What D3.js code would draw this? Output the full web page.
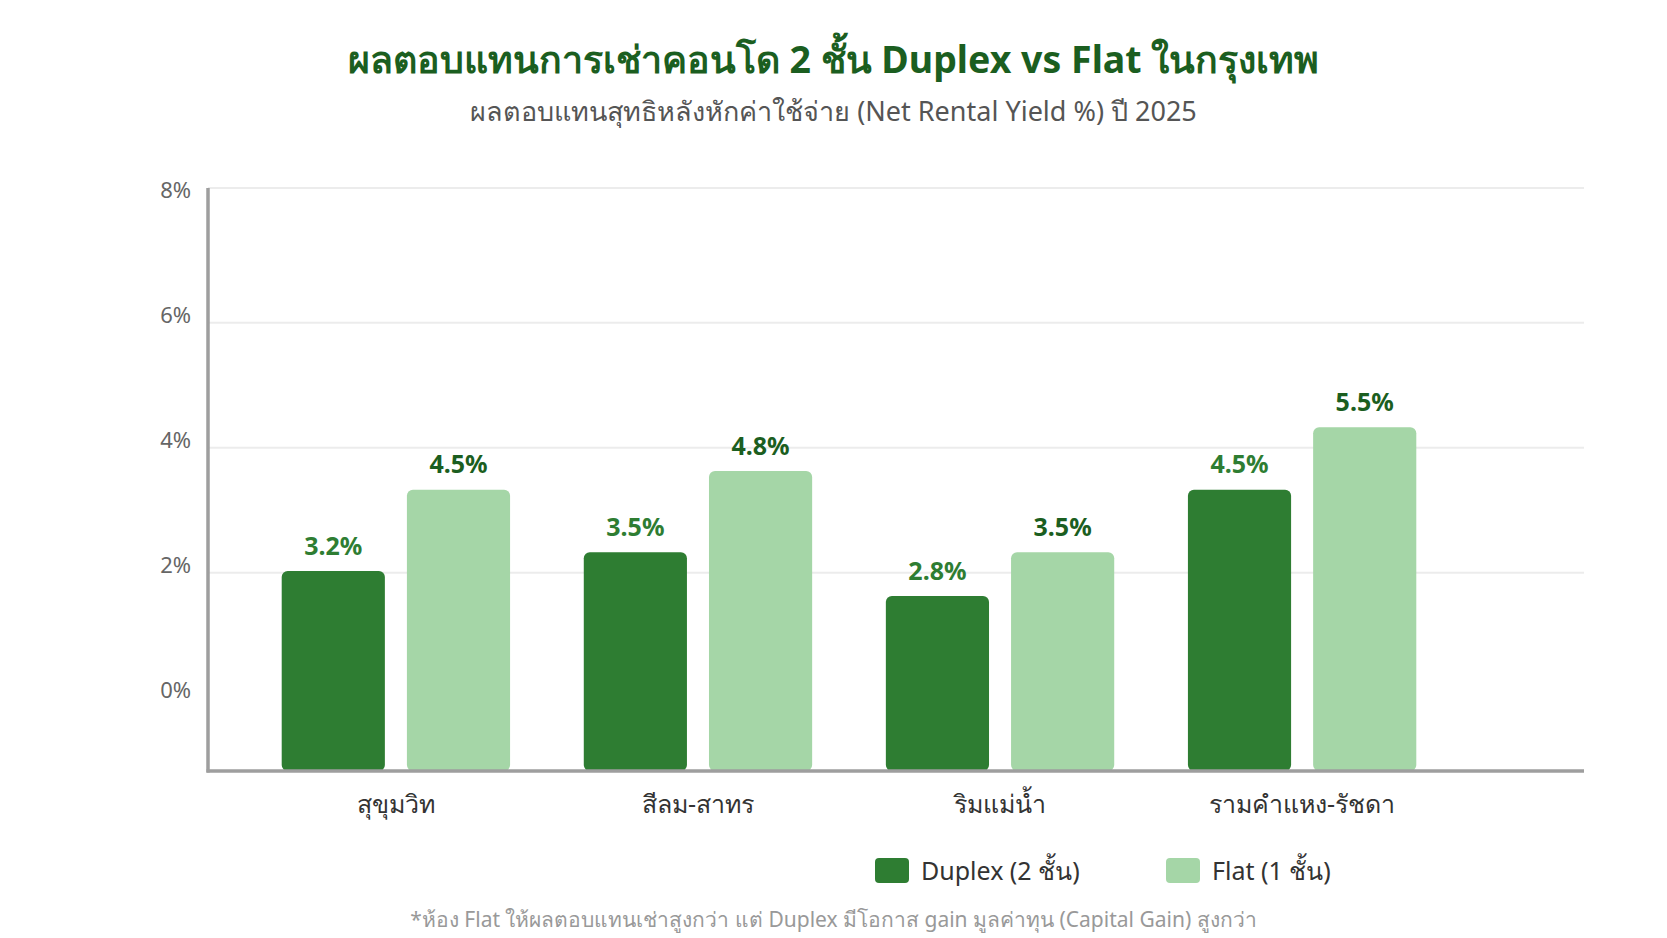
<!DOCTYPE html>
<html>
<head>
<meta charset="utf-8">
<script src="https://cdn.jsdelivr.net/npm/d3@7"></script>
<style>
  body { margin: 0; background: #fff; }
  text { font-family: "Noto Sans", sans-serif; }
</style>
</head>
<body>
<div id="chart"></div>
<script>
"use strict";

var categories = ["สุขุมวิท", "สีลม-สาทร", "ริมแม่น้ำ", "รามคำแหง-รัชดา"];
var duplexValues = [3.2, 3.5, 2.8, 4.5];
var flatValues = [4.5, 4.8, 3.5, 5.5];
var seriesKeys = ["duplex", "flat"];
var seriesNames = ["Duplex (2 ชั้น)", "Flat (1 ชั้น)"];
var yTicks = [0, 2, 4, 6, 8];

var titleText = "ผลตอบแทนการเช่าคอนโด 2 ชั้น Duplex vs Flat ในกรุงเทพ";
var subtitleText = "ผลตอบแทนสุทธิหลังหักค่าใช้จ่าย (Net Rental Yield %) ปี 2025";
var noteText = "*ห้อง Flat ให้ผลตอบแทนเช่าสูงกว่า แต่ Duplex มีโอกาส gain มูลค่าทุน (Capital Gain) สูงกว่า";

var W = 1667, H = 938;
var plotLeft = 208, plotRight = 1584, plotTop = 188, plotBottom = 771;
var colors = { duplex: "#2e7d32", flat: "#a5d6a7" };
var labelColors = { duplex: "#2e7d32", flat: "#1b5e20" };

function makeChart(){
    var svg = d3.select("#chart").append("svg").attr("width", W).attr("height", H);

    svg.append("text").attr("x", W / 2).attr("y", 63)
        .attr("text-anchor", "middle").attr("dominant-baseline", "middle")
        .style("font-size", "37.5px").style("font-weight", "700").style("fill", "#1b5e20")
        .text(titleText);
    svg.append("text").attr("x", W / 2).attr("y", 114)
        .attr("text-anchor", "middle").attr("dominant-baseline", "middle")
        .style("font-size", "27px").style("fill", "#555")
        .text(subtitleText);

    var y = d3.scaleLinear().domain([0, 9.33]).range([plotBottom, plotTop]);
    var x0 = d3.scaleBand().domain(categories).range([plotLeft, 1490]).paddingInner(0.244).paddingOuter(0.244);
    var x1 = d3.scaleBand().domain(seriesKeys).range([0, x0.bandwidth()]).paddingInner(0.176);

    // grid (labels sit above their value lines, like the source)
    var gridY = function(t){ return y(t) - 73.3; };
    svg.append("g").selectAll("line").data(yTicks.filter(function(t){ return t > 0 && t < 8; }))
        .enter().append("line")
        .attr("x1", plotLeft).attr("x2", plotRight)
        .attr("y1", gridY).attr("y2", gridY)
        .attr("stroke", "#ececec").attr("stroke-width", 2);
    svg.append("line").attr("x1", plotLeft).attr("x2", plotRight).attr("y1", plotTop).attr("y2", plotTop)
        .attr("stroke", "#ececec").attr("stroke-width", 2);

    svg.append("g").selectAll("text").data(yTicks).enter().append("text")
        .attr("x", 191).attr("y", function(t){ return y(t) - 79; })
        .attr("text-anchor", "end").attr("dominant-baseline", "middle")
        .style("font-size", "22px").style("fill", "#666")
        .text(function(t){ return t + "%"; });

    var rows = categories.map(function(c, i){
        return { cat: c, values: [
            { key: "duplex", v: duplexValues[i] },
            { key: "flat", v: flatValues[i] }
        ]};
    });

    var groups = svg.append("g").selectAll("g").data(rows).enter().append("g")
        .attr("transform", function(d){ return "translate(" + x0(d.cat) + ",0)"; });

    groups.selectAll("rect").data(function(d){ return d.values; }).enter().append("rect")
        .attr("x", function(d){ return x1(d.key); })
        .attr("y", function(d){ return y(d.v); })
        .attr("width", x1.bandwidth())
        .attr("height", function(d){ return y(0) - y(d.v); })
        .attr("rx", 6).attr("ry", 6)
        .attr("fill", function(d){ return colors[d.key]; });

    groups.selectAll("text").data(function(d){ return d.values; }).enter().append("text")
        .attr("x", function(d){ return x1(d.key) + x1.bandwidth() / 2; })
        .attr("y", function(d){ return y(d.v) - 16.5; })
        .attr("text-anchor", "middle")
        .style("font-size", "25px").style("font-weight", "700")
        .style("fill", function(d){ return labelColors[d.key]; })
        .text(function(d){ return d.v.toFixed(1) + "%"; });

    // axes
    svg.append("line").attr("x1", plotLeft).attr("x2", plotLeft).attr("y1", plotTop).attr("y2", plotBottom + 1.5)
        .attr("stroke", "#9e9e9e").attr("stroke-width", 3.5);
    svg.append("line").attr("x1", plotLeft - 1.5).attr("x2", plotRight).attr("y1", plotBottom).attr("y2", plotBottom)
        .attr("stroke", "#9e9e9e").attr("stroke-width", 3.5);

    svg.append("g").selectAll("text").data(categories).enter().append("text")
        .attr("x", function(c){ return x0(c) + x0.bandwidth() / 2; })
        .attr("y", 806).attr("text-anchor", "middle").attr("dominant-baseline", "middle")
        .style("font-size", "25px").style("fill", "#333")
        .text(function(c){ return c; });

    // legend
    var legendX = [875, 1166];
    var legend = svg.append("g").selectAll("g").data(seriesKeys).enter().append("g")
        .attr("transform", function(d, i){ return "translate(" + legendX[i] + ",858)"; });
    legend.append("rect").attr("width", 34).attr("height", 25).attr("rx", 4)
        .attr("fill", function(d){ return colors[d]; });
    legend.append("text").attr("x", 46).attr("y", 15).attr("dominant-baseline", "middle")
        .style("font-size", "25px").style("fill", "#333")
        .text(function(d, i){ return seriesNames[i]; });

    svg.append("text").attr("x", W / 2).attr("y", 921)
        .attr("text-anchor", "middle").attr("dominant-baseline", "middle")
        .style("font-size", "21px").style("fill", "#999")
        .text(noteText);
}

makeChart();
</script>
</body>
</html>
